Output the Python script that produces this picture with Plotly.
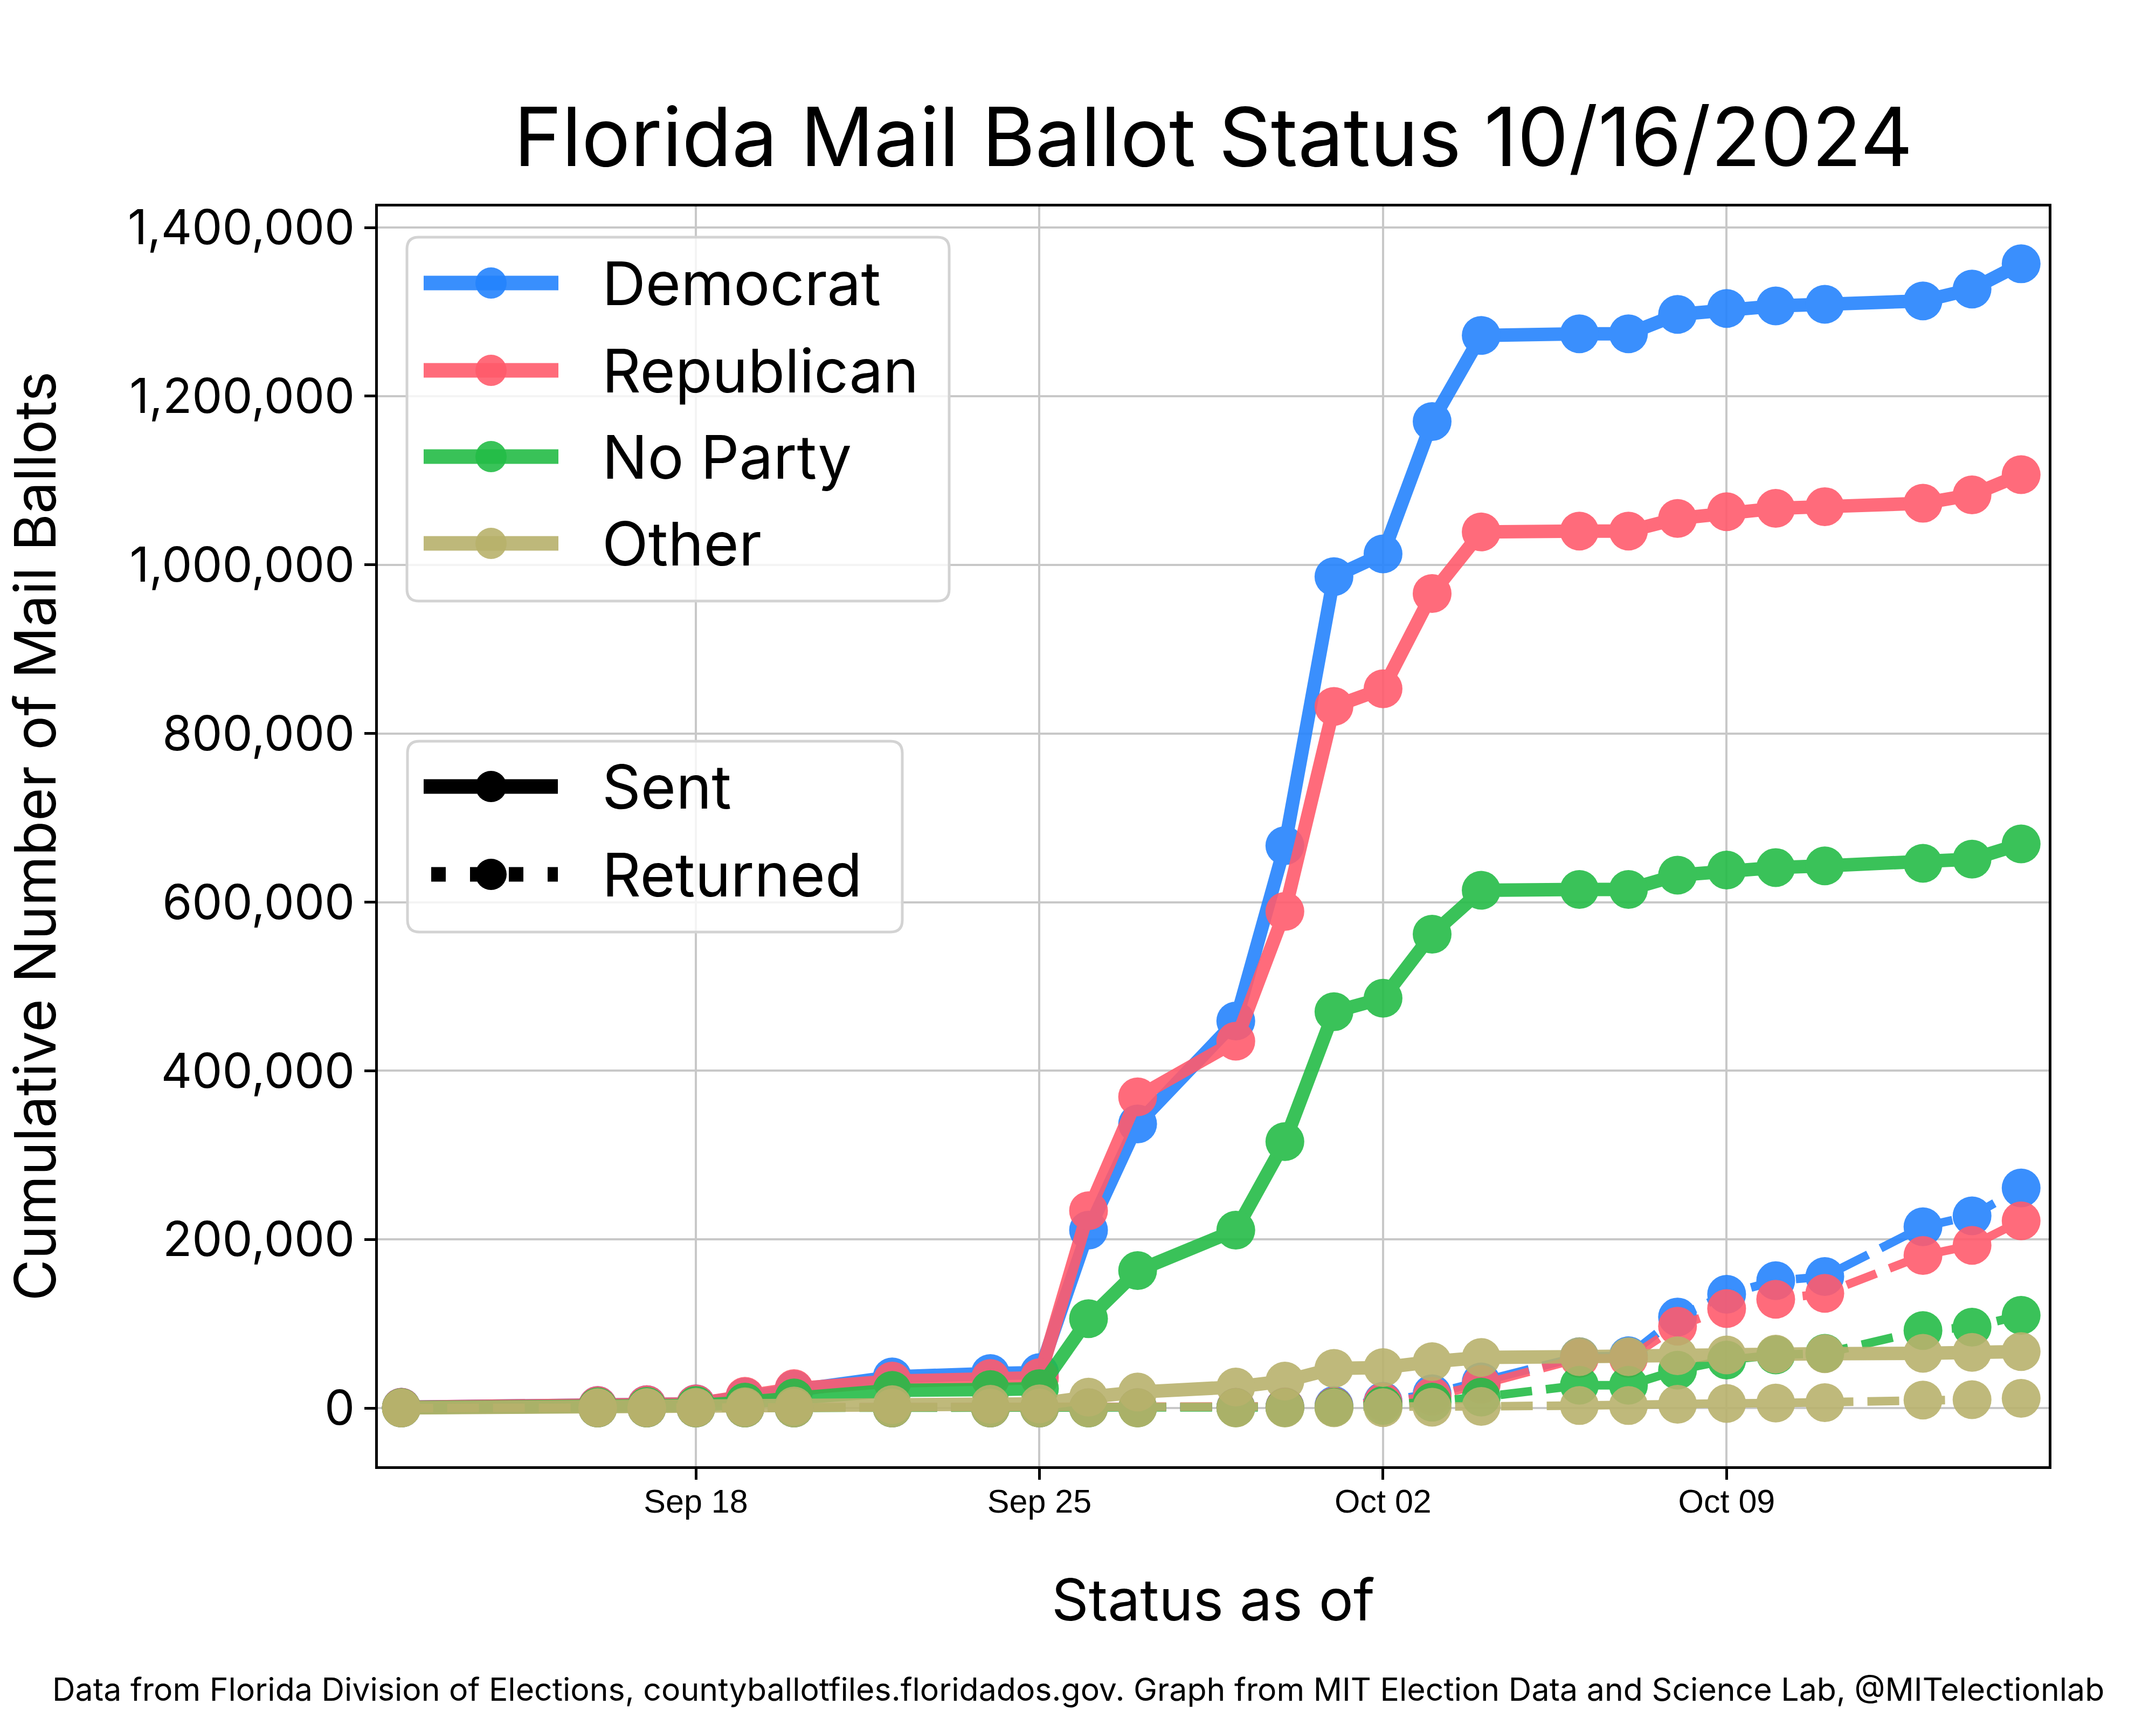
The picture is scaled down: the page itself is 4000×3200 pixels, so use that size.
import plotly.graph_objects as go

# ---------------- data ----------------
dates = ["2024-09-12", "2024-09-16", "2024-09-17", "2024-09-18", "2024-09-19", "2024-09-20",
         "2024-09-22", "2024-09-24", "2024-09-25", "2024-09-26", "2024-09-27", "2024-09-29",
         "2024-09-30", "2024-10-01", "2024-10-02", "2024-10-03", "2024-10-04", "2024-10-06",
         "2024-10-07", "2024-10-08", "2024-10-09", "2024-10-10", "2024-10-11", "2024-10-13",
         "2024-10-14", "2024-10-15"]

parties = ["Democrat", "Republican", "No Party", "Other"]
party_colors = ["#2483FD", "#FF5B6C", "#24BC47", "#B8B16C"]

dem_sent = [1000, 3000, 4000, 5000, 13000, 22000, 37000, 41000, 42000, 211000, 337000, 459000,
            667000, 986000, 1013000, 1170000, 1272000, 1274000, 1274000, 1297000, 1304000,
            1307000, 1309000, 1313000, 1327000, 1357000]
rep_sent = [1000, 3000, 4000, 5000, 14000, 23000, 32000, 35000, 36000, 234000, 369000, 435000,
            589000, 832000, 853000, 966000, 1039000, 1040000, 1040000, 1055000, 1063000,
            1067000, 1069000, 1073000, 1083000, 1107000]
npa_sent = [500, 1500, 2000, 3000, 7000, 12000, 21000, 22000, 23000, 106000, 163000, 211000,
            316000, 470000, 486000, 562000, 614000, 615000, 615000, 632000, 638000,
            641000, 643000, 646000, 651000, 669000]
oth_sent = [200, 500, 700, 1000, 1500, 2500, 4000, 4500, 5000, 13000, 19000, 25000,
            32000, 47000, 48000, 55000, 60000, 61000, 61000, 62000, 63000,
            64000, 64500, 65000, 66000, 67000]

dem_returned = [0, 0, 0, 0, 0, 0, 0, 0, 0, 300, 500, 1000, 1500, 3000, 8000, 17000, 31000,
                61000, 62000, 108000, 135000, 151000, 156000, 215000, 228000, 261000]
rep_returned = [0, 0, 0, 0, 0, 0, 0, 0, 0, 300, 500, 900, 1300, 2000, 7000, 14000, 28000,
                59000, 59000, 97000, 118000, 129000, 136000, 181000, 193000, 222000]
npa_returned = [0, 0, 0, 0, 0, 0, 0, 0, 0, 100, 200, 400, 600, 1000, 3000, 7000, 13000,
                27000, 27000, 45000, 57000, 63000, 65000, 92000, 96000, 110000]
oth_returned = [0, 0, 0, 0, 0, 0, 0, 0, 0, 0, 0, 100, 100, 300, 500, 1000, 2000,
                3000, 3000, 4500, 5500, 6000, 6500, 9500, 10000, 11500]

sent_series = [dem_sent, rep_sent, npa_sent, oth_sent]
returned_series = [dem_returned, rep_returned, npa_returned, oth_returned]
status_labels = ["Sent", "Returned"]

x_tick_vals = ["2024-09-18", "2024-09-25", "2024-10-02", "2024-10-09"]
x_tick_text = ["Sep 18", "Sep 25", "Oct 02", "Oct 09"]
y_tick_vals = [0, 200000, 400000, 600000, 800000, 1000000, 1200000, 1400000]
y_tick_text = ["0", "200,000", "400,000", "600,000", "800,000", "1,000,000", "1,200,000", "1,400,000"]

title_text = "Florida Mail Ballot Status 10/16/2024"
x_title = "Status as of"
y_title = "Cumulative Number of Mail Ballots"
footnote = ("Data from Florida Division of Elections, countyballotfiles.floridados.gov. "
            "Graph from MIT Election Data and Science Lab, @MITelectionlab")

# ---------------- figure ----------------
W, H = 4000, 3200
L, R, T, B = 701, 199, 383, 480
PW, PH = W - L - R, H - T - B
OPAC = 0.9
MAIN_FONT = "Inter"

fig = go.Figure()
for name, color, sent, ret in zip(parties, party_colors, sent_series, returned_series):
    fig.add_trace(go.Scatter(
        x=dates, y=sent, mode="lines+markers", name=name + " Sent",
        line=dict(color=color, width=25), marker=dict(color=color, size=72, line=dict(width=0)),
        opacity=OPAC, showlegend=False))
    fig.add_trace(go.Scatter(
        x=dates, y=ret, mode="lines+markers", name=name + " Returned",
        line=dict(color=color, width=16, dash="59px,26px"),
        marker=dict(color=color, size=72, line=dict(width=0)),
        opacity=OPAC, showlegend=False))


def px(xp):
    return (xp - L) / PW


def py(yp):
    return (T + PH - yp) / PH


def rounded_box(x0, y0, x1, y1, r=22):
    rx, ry = r / PW, r / PH
    X0, X1, Y0, Y1 = px(x0), px(x1), py(y1), py(y0)  # Y0 bottom, Y1 top
    return (f"M{X0 + rx},{Y0} L{X1 - rx},{Y0} Q{X1},{Y0} {X1},{Y0 + ry} "
            f"L{X1},{Y1 - ry} Q{X1},{Y1} {X1 - rx},{Y1} L{X0 + rx},{Y1} "
            f"Q{X0},{Y1} {X0},{Y1 - ry} L{X0},{Y0 + ry} Q{X0},{Y0} {X0 + rx},{Y0} Z")


shapes = []
annotations = []
LEG_FONT = dict(family=MAIN_FONT, size=112, color="black")

# legend 1 (parties)
shapes.append(dict(type="path", xref="paper", yref="paper", path=rounded_box(755, 440, 1761, 1115),
                   fillcolor="rgba(255,255,255,0.8)", line=dict(color="#d3d3d3", width=5), layer="above"))
rows1 = [525, 687, 847, 1008]
for name, color, yrow in zip(parties, party_colors, rows1):
    shapes.append(dict(type="line", xref="paper", yref="paper", x0=px(786), x1=px(1036), y0=py(yrow), y1=py(yrow),
                       line=dict(color=color, width=27), opacity=OPAC, layer="above"))
    shapes.append(dict(type="circle", xref="paper", yref="paper", x0=px(911 - 29), x1=px(911 + 29),
                       y0=py(yrow + 29), y1=py(yrow - 29), fillcolor=color, line=dict(width=0),
                       opacity=OPAC, layer="above"))
    annotations.append(dict(text=name, xref="paper", yref="paper", x=px(1115), y=py(yrow),
                            xanchor="left", yanchor="middle", showarrow=False, font=LEG_FONT))

# legend 2 (status)
shapes.append(dict(type="path", xref="paper", yref="paper", path=rounded_box(756, 1375, 1674, 1729),
                   fillcolor="rgba(255,255,255,0.8)", line=dict(color="#d3d3d3", width=5), layer="above"))
rows2 = [1459, 1622]
for lab, yrow, dash, x0 in zip(status_labels, rows2, ["solid", "27px,45px"], [786, 800]):
    shapes.append(dict(type="line", xref="paper", yref="paper", x0=px(x0), x1=px(1035), y0=py(yrow), y1=py(yrow),
                       line=dict(color="black", width=27, dash=dash), layer="above"))
    shapes.append(dict(type="circle", xref="paper", yref="paper", x0=px(911 - 29), x1=px(911 + 29),
                       y0=py(yrow + 29), y1=py(yrow - 29), fillcolor="black", line=dict(width=0), layer="above"))
    annotations.append(dict(text=lab, xref="paper", yref="paper", x=px(1115), y=py(yrow),
                            xanchor="left", yanchor="middle", showarrow=False, font=LEG_FONT))

# axis titles and footnote
annotations.append(dict(text=x_title, xref="paper", yref="paper", x=0.5, y=py(2967),
                        xanchor="center", yanchor="middle", showarrow=False,
                        font=dict(family=MAIN_FONT, size=107, color="black")))
annotations.append(dict(text=y_title, xref="paper", yref="paper", x=px(64), y=0.5, textangle=-90,
                        xanchor="center", yanchor="middle", showarrow=False,
                        font=dict(family=MAIN_FONT, size=106, color="black")))
annotations.append(dict(text=footnote, xref="paper", yref="paper", x=px(2000), y=py(3133),
                        xanchor="center", yanchor="middle", showarrow=False,
                        font=dict(family=MAIN_FONT, size=59, color="black")))

fig.update_layout(
    width=W, height=H, margin=dict(l=L, r=R, t=T, b=B, pad=0),
    paper_bgcolor="white", plot_bgcolor="white",
    title=dict(text=title_text, x=0.5, xref="paper", y=1 - 255 / H, yref="container",
               xanchor="center", yanchor="middle", font=dict(family=MAIN_FONT, size=151, color="black")),
    shapes=shapes, annotations=annotations, showlegend=False,
    xaxis=dict(type="date", range=["2024-09-11 12:30", "2024-10-15 13:30"],
               tickvals=x_tick_vals, ticktext=x_tick_text,
               showgrid=True, gridcolor="#c8c8c8", gridwidth=4, zeroline=False,
               showline=True, linecolor="black", linewidth=5, mirror=True,
               ticks="outside", ticklen=20, tickwidth=5, tickcolor="black",
               ticklabelstandoff=-12,
               tickfont=dict(family="Liberation Sans", size=61, color="black")),
    yaxis=dict(range=[-69000, 1425000], tickvals=y_tick_vals, ticktext=y_tick_text,
               showgrid=True, gridcolor="#c8c8c8", gridwidth=4, zeroline=False,
               showline=True, linecolor="black", linewidth=5, mirror=True,
               ticks="outside", ticklen=20, tickwidth=5, tickcolor="black",
               tickfont=dict(family=MAIN_FONT, size=89, color="black")),
)

fig.write_html("out.html")
